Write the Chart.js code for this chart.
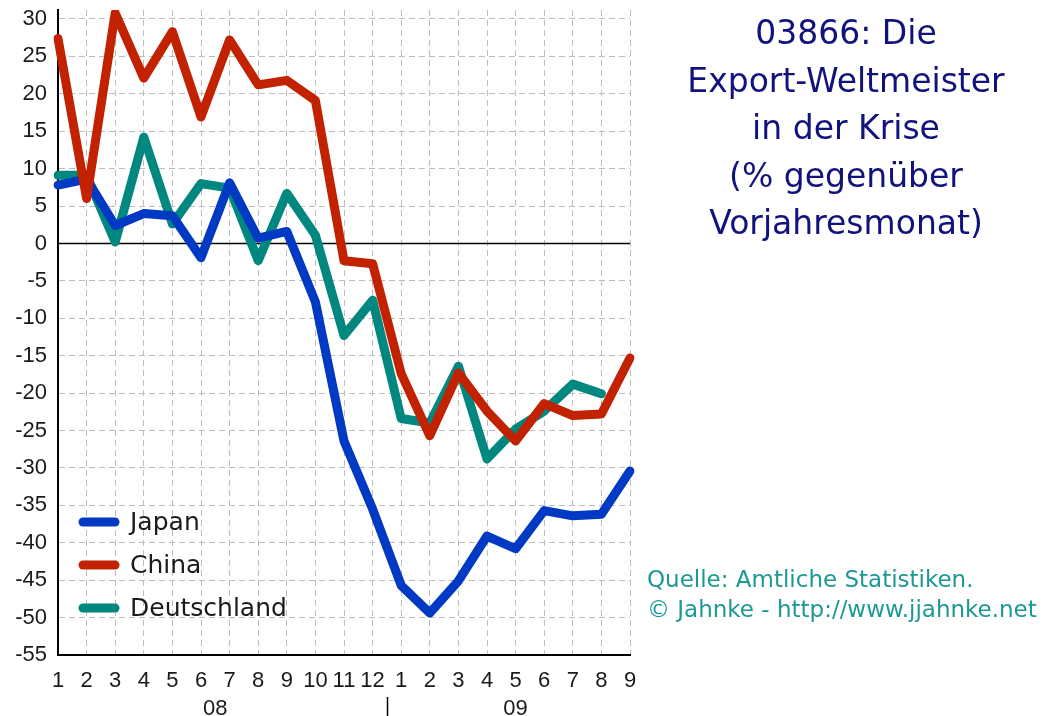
<!DOCTYPE html>
<html><head><meta charset="utf-8">
<script src="https://cdn.jsdelivr.net/npm/chart.js@4.4.1/dist/chart.umd.min.js"></script>
<style>html,body{margin:0;padding:0;background:#fff;}canvas{display:block;}</style>
</head><body>
<canvas id="c" width="1043" height="716"></canvas>
<script>
// ---- data ----
const months = ['1','2','3','4','5','6','7','8','9','10','11','12','1','2','3','4','5','6','7','8','9'];
const yearLabels = ['08', '09'];
const yearFirstIndex = [0, 12];
const yearLastIndex = [11, 20];
const yTickValues = [-55, -50, -45, -40, -35, -30, -25, -20, -15, -10, -5, 0, 5, 10, 15, 20, 25, 30];
const seriesNames = ['Japan', 'China', 'Deutschland'];
const japan = [7.8, 8.6, 2.4, 4.0, 3.7, -1.9, 8.1, 0.7, 1.6, -7.8, -26.4, -35.5, -45.7, -49.4, -45.1, -39.1, -40.8, -35.7, -36.4, -36.2, -30.4];
const china = [27.4, 6.0, 30.8, 22.1, 28.3, 16.9, 27.2, 21.2, 21.8, 19.1, -2.3, -2.7, -17.4, -25.7, -17.3, -22.4, -26.4, -21.4, -23.0, -22.8, -15.3];
const deutschland = [9.1, 9.1, 0.2, 14.2, 2.6, 8.0, 7.4, -2.3, 6.7, 1.1, -12.3, -7.6, -23.4, -24.0, -16.4, -28.8, -24.8, -22.4, -18.8, -20.1, null];
const titleLines = ['03866: Die', 'Export-Weltmeister', 'in der Krise', '(% gegenüber', 'Vorjahresmonat)'];
const sourceLines = ['Quelle: Amtliche Statistiken.', '© Jahnke - http://www.jjahnke.net'];

const colors = ['#0039c4', '#c22200', '#00877f'];
const FONT = "'DejaVu Sans', sans-serif";
const TICKFONT = "'Liberation Sans', Arial, sans-serif";

const overlay = {
  id: 'overlay',
  beforeDatasetsDraw(chart) {
    const {ctx, chartArea: a, scales: {y}} = chart;
    const y0 = Math.round(y.getPixelForValue(0)) + 0.5;
    ctx.save();
    ctx.strokeStyle = '#000';
    ctx.lineWidth = 1.5;
    ctx.beginPath(); ctx.moveTo(a.left, y0); ctx.lineTo(a.right, y0); ctx.stroke();
    ctx.restore();
  },
  afterDraw(chart) {
    const {ctx, chartArea: a, scales: {x}} = chart;
    ctx.save();
    // year labels
    ctx.fillStyle = '#1a1a1a';
    ctx.font = `22px ${TICKFONT}`;
    ctx.textAlign = 'center';
    ctx.textBaseline = 'alphabetic';
    yearLabels.forEach((lab, i) => {
      const cx = (x.getPixelForValue(yearFirstIndex[i]) + x.getPixelForValue(yearLastIndex[i])) / 2;
      ctx.fillText(lab, cx, 715);
    });
    // separator
    const sx = Math.round((x.getPixelForValue(yearLastIndex[0]) + x.getPixelForValue(yearFirstIndex[1])) / 2) + 0.5;
    ctx.strokeStyle = '#000'; ctx.lineWidth = 1.5;
    ctx.beginPath(); ctx.moveTo(sx, 697); ctx.lineTo(sx, 716); ctx.stroke();
    // legend
    ctx.font = `25px ${FONT}`;
    ctx.textAlign = 'left';
    ctx.textBaseline = 'middle';
    chart.data.datasets.forEach((ds, i) => {
      const ly = 522 + i * 43;
      ctx.strokeStyle = ds.borderColor;
      ctx.lineWidth = 9; ctx.lineCap = 'round';
      ctx.beginPath(); ctx.moveTo(a.left + 25, ly); ctx.lineTo(a.left + 57, ly); ctx.stroke();
      ctx.fillStyle = '#1a1a1a';
      ctx.fillText(ds.label, a.left + 72, ly + 1);
    });
    // title
    ctx.fillStyle = '#12127e';
    ctx.font = `33px ${FONT}`;
    ctx.textAlign = 'center';
    ctx.textBaseline = 'alphabetic';
    titleLines.forEach((t, i) => ctx.fillText(t, 846, 44 + i * 47.5));
    // source
    ctx.fillStyle = '#1c9996';
    ctx.font = `23px ${FONT}`;
    ctx.textAlign = 'left';
    sourceLines.forEach((t, i) => ctx.fillText(t, 647, 587 + i * 30));
    ctx.restore();
  }
};

new Chart(document.getElementById('c'), {
  type: 'line',
  data: {
    labels: months,
    datasets: [
      {label: seriesNames[0], data: japan, borderColor: colors[0], order: 1},
      {label: seriesNames[1], data: china, borderColor: colors[1], order: 0},
      {label: seriesNames[2], data: deutschland, borderColor: colors[2], order: 2}
    ].map(d => Object.assign(d, {borderWidth: 9, pointRadius: 0, tension: 0, fill: false,
      borderJoinStyle: 'round', borderCapStyle: 'round', spanGaps: false}))
  },
  options: {
    responsive: false,
    animation: false,
    devicePixelRatio: 1,
    layout: {padding: {left: 0, top: 0, right: 413, bottom: 0}},
    plugins: {legend: {display: false}, tooltip: {enabled: false}, title: {display: false}},
    scales: {
      x: {
        grid: {color: '#bdbdbd', lineWidth: 1, drawTicks: false},
        border: {display: true, color: '#000', width: 2, dash: [6, 4]},
        ticks: {autoSkip: false, maxRotation: 0, minRotation: 0, padding: 15, color: '#1a1a1a',
          font: {family: TICKFONT, size: 22, lineHeight: 1}},
        afterFit(s) { s.height = 61; }
      },
      y: {
        min: -55, max: 31.2,
        grid: {color: '#bdbdbd', lineWidth: 1, drawTicks: true, tickLength: 11, tickColor: 'rgba(0,0,0,0)'},
        border: {display: true, color: '#000', width: 2, dash: [6, 4]},
        ticks: {padding: 0, color: '#1a1a1a', font: {family: TICKFONT, size: 22, lineHeight: 0.909}},
        afterBuildTicks(s) { s.ticks = yTickValues.map(v => ({value: v})); },
        afterFit(s) { s.width = 58; }
      }
    }
  },
  plugins: [overlay]
});
</script>
</body></html>
